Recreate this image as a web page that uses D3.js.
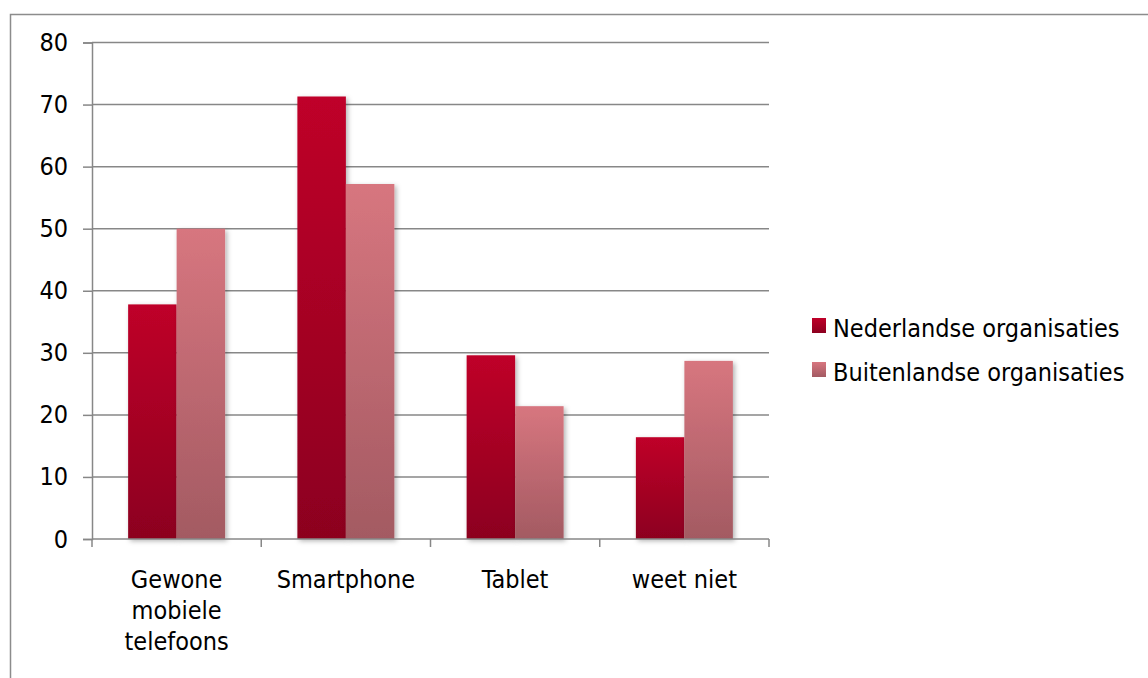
<html>
<head>
<script src="https://d3js.org/d3.v7.min.js"></script>
<style>
body { margin: 0; background: white; }
text { font-family: 'DejaVu Sans Condensed', 'DejaVu Sans', sans-serif; font-stretch: condensed; fill: #000; }
</style>
</head>
<body>
<svg width="1148" height="678"></svg>
<script>
// chart data
const categories = [["Gewone", "mobiele", "telefoons"], ["Smartphone"], ["Tablet"], ["weet niet"]];
const seriesNames = ["Nederlandse organisaties", "Buitenlandse organisaties"];
const nederlandse = [37.8, 71.3, 29.6, 16.4];
const buitenlandse = [50.0, 57.2, 21.4, 28.7];
const yTicks = [0, 10, 20, 30, 40, 50, 60, 70, 80];

const svg = d3.select("svg");
const plotLeft = 92, plotRight = 769, plotTop = 42.5, plotBottom = 539;
const fontSize = 25;

// gradients + shadow
const defs = svg.append("defs");
const grads = [
    {id: "gNed", top: "#bf0029", bot: "#8c001f"},
    {id: "gBui", top: "#d7767f", bot: "#a35a62"}
];
grads.forEach(g => {
    const lg = defs.append("linearGradient").attr("id", g.id)
        .attr("x1", 0).attr("y1", 0).attr("x2", 0).attr("y2", 1);
    lg.append("stop").attr("offset", "0%").attr("stop-color", g.top);
    lg.append("stop").attr("offset", "100%").attr("stop-color", g.bot);
});
defs.append("filter").attr("id", "shadow")
    .attr("x", "-20%").attr("y", "-10%").attr("width", "150%").attr("height", "130%")
    .append("feDropShadow")
    .attr("dx", 2).attr("dy", 2).attr("stdDeviation", 2.5)
    .attr("flood-color", "#000").attr("flood-opacity", 0.3);

// outer frame (runs past the edges)
svg.append("rect")
    .attr("x", 10.5).attr("y", 14.5)
    .attr("width", 1200).attr("height", 700)
    .attr("fill", "none").attr("stroke", "#8c8c8c").attr("stroke-width", 1.5);

var y = d3.scaleLinear().domain([0, 80]).range([plotBottom, plotTop]);

var x0 = d3.scaleBand()
    .domain(d3.range(categories.length))
    .range([plotLeft, plotRight])
    .paddingInner(0.427)
    .paddingOuter(0.2135);

var x1 = d3.scaleBand()
    .domain(d3.range(seriesNames.length))
    .range([0, x0.bandwidth()]);

// gridlines
svg.append("g")
    .selectAll("line")
    .data(yTicks.filter(d => d > 0))
    .enter()
    .append("line")
    .attr("x1", plotLeft).attr("x2", plotRight)
    .attr("y1", d => y(d)).attr("y2", d => y(d))
    .attr("stroke", "#878787").attr("stroke-width", 1.5);

// y axis
const yAxis = svg.append("g")
    .attr("transform", `translate(${plotLeft},0)`)
    .call(d3.axisLeft(y).tickValues(yTicks).tickSize(9).tickPadding(15));
yAxis.select(".domain").attr("stroke", "#878787").attr("stroke-width", 1.5);
yAxis.selectAll(".tick line").attr("stroke", "#878787").attr("stroke-width", 1.5);
yAxis.attr("font-family", null).attr("font-size", null);
yAxis.selectAll(".tick text")
    .attr("fill", "#000")
    .style("font-size", fontSize + "px");

// bars
const values = [nederlandse, buitenlandse];
const fills = ["url(#gNed)", "url(#gBui)"];
const groups = svg.append("g")
    .selectAll("g")
    .data(categories)
    .enter()
    .append("g")
    .attr("transform", (d, i) => `translate(${x0(i)},0)`);

groups.selectAll("rect")
    .data((d, i) => values.map((s, k) => ({k: k, v: s[i]})))
    .enter()
    .append("rect")
    .attr("x", d => x1(d.k))
    .attr("y", d => y(d.v))
    .attr("width", x1.bandwidth())
    .attr("height", d => plotBottom - y(d.v))
    .attr("fill", d => fills[d.k])
    .attr("filter", "url(#shadow)");

// x axis
const step = x0.step();
const catTicks = d3.range(categories.length + 1).map(i => plotLeft + i * step);
svg.append("line")
    .attr("x1", plotLeft).attr("x2", plotRight)
    .attr("y1", plotBottom).attr("y2", plotBottom)
    .attr("stroke", "#878787").attr("stroke-width", 1.5);
svg.append("g")
    .selectAll("line")
    .data(catTicks)
    .enter()
    .append("line")
    .attr("x1", d => d).attr("x2", d => d)
    .attr("y1", plotBottom).attr("y2", plotBottom + 8)
    .attr("stroke", "#878787").attr("stroke-width", 1.5);

svg.append("g")
    .selectAll("text")
    .data(categories)
    .enter()
    .append("text")
    .attr("text-anchor", "middle")
    .attr("x", (d, i) => x0(i) + x0.bandwidth() / 2)
    .attr("y", 588)
    .style("font-size", fontSize + "px")
    .each(function(lines) {
        const t = d3.select(this);
        const cx = t.attr("x");
        lines.forEach((l, j) => {
            t.append("tspan").attr("x", cx).attr("dy", j === 0 ? 0 : 31).text(l);
        });
    });

// legend
const legend = svg.append("g")
    .selectAll("g")
    .data(seriesNames)
    .enter()
    .append("g")
    .attr("transform", (d, i) => `translate(812,${318 + i * 44})`);
legend.append("rect")
    .attr("width", 14).attr("height", 15)
    .attr("fill", (d, i) => fills[i]);
legend.append("text")
    .attr("x", 21).attr("y", 18.5)
    .style("font-size", fontSize + "px")
    .text(d => d);
</script>
</body>
</html>
